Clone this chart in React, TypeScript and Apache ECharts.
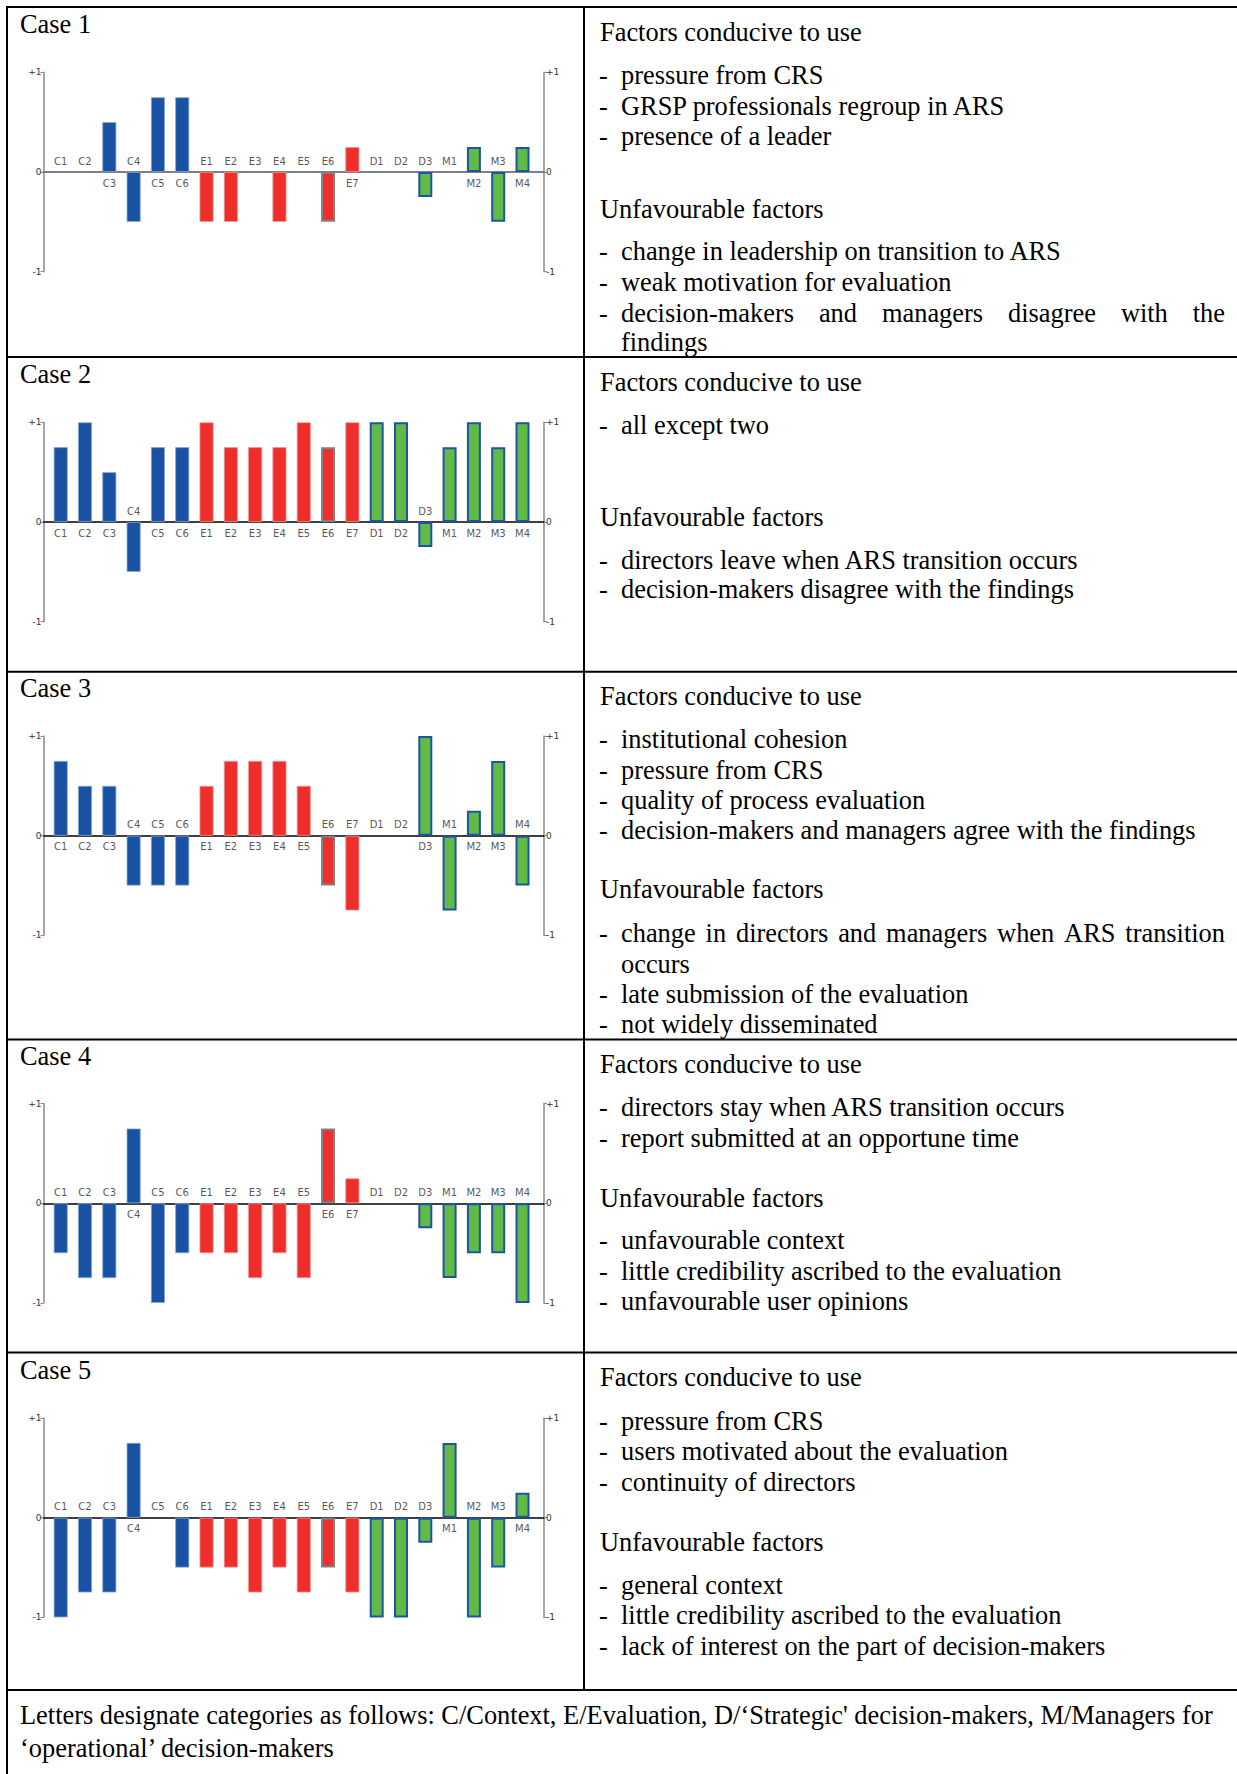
import React, { useEffect, useRef } from 'react';
import * as echarts from 'echarts';

// ---------- DATA ----------
const categories = ['C1', 'C2', 'C3', 'C4', 'C5', 'C6', 'E1', 'E2', 'E3', 'E4', 'E5', 'E6', 'E7', 'D1', 'D2', 'D3', 'M1', 'M2', 'M3', 'M4'];
const case1Values = [0, 0, 0.5, -0.5, 0.75, 0.75, -0.5, -0.5, 0, -0.5, 0, -0.5, 0.25, 0, 0, -0.25, 0, 0.25, -0.5, 0.25];
const case2Values = [0.75, 1, 0.5, -0.5, 0.75, 0.75, 1, 0.75, 0.75, 0.75, 1, 0.75, 1, 1, 1, -0.25, 0.75, 1, 0.75, 1];
const case3Values = [0.75, 0.5, 0.5, -0.5, -0.5, -0.5, 0.5, 0.75, 0.75, 0.75, 0.5, -0.5, -0.75, 0, 0, 1, -0.75, 0.25, 0.75, -0.5];
const case4Values = [-0.5, -0.75, -0.75, 0.75, -1, -0.5, -0.5, -0.5, -0.75, -0.5, -0.75, 0.75, 0.25, 0, 0, -0.25, -0.75, -0.5, -0.5, -1];
const case5Values = [-1, -0.75, -0.75, 0.75, 0, -0.5, -0.5, -0.5, -0.75, -0.5, -0.75, -0.5, -0.75, -1, -1, -0.25, 0.75, -1, -0.5, 0.25];
const allCases = [case1Values, case2Values, case3Values, case4Values, case5Values];
const yTickLabels = ['-1', '0', '+1'];
const caseTitles = ['Case 1', 'Case 2', 'Case 3', 'Case 4', 'Case 5'];

// text lines: h = heading, b = bullet, j = justified bullet, c = continuation
const row1Lines = [
  { k: 'h', s: 'Factors conducive to use' },
  { k: 'b', s: 'pressure from CRS' },
  { k: 'b', s: 'GRSP professionals regroup in ARS' },
  { k: 'b', s: 'presence of a leader' },
  { k: 'h', s: 'Unfavourable factors' },
  { k: 'b', s: 'change in leadership on transition to ARS' },
  { k: 'b', s: 'weak motivation for evaluation' },
  { k: 'j', s: 'decision-makers and managers disagree with the' },
  { k: 'c', s: 'findings' },
];
const row2Lines = [
  { k: 'h', s: 'Factors conducive to use' },
  { k: 'b', s: 'all except two' },
  { k: 'h', s: 'Unfavourable factors' },
  { k: 'b', s: 'directors leave when ARS transition occurs' },
  { k: 'b', s: 'decision-makers disagree with the findings' },
];
const row3Lines = [
  { k: 'h', s: 'Factors conducive to use' },
  { k: 'b', s: 'institutional cohesion' },
  { k: 'b', s: 'pressure from CRS' },
  { k: 'b', s: 'quality of process evaluation' },
  { k: 'b', s: 'decision-makers and managers agree with the findings' },
  { k: 'h', s: 'Unfavourable factors' },
  { k: 'j', s: 'change in directors and managers when ARS transition' },
  { k: 'c', s: 'occurs' },
  { k: 'b', s: 'late submission of the evaluation' },
  { k: 'b', s: 'not widely disseminated' },
];
const row4Lines = [
  { k: 'h', s: 'Factors conducive to use' },
  { k: 'b', s: 'directors stay when ARS transition occurs' },
  { k: 'b', s: 'report submitted at an opportune time' },
  { k: 'h', s: 'Unfavourable factors' },
  { k: 'b', s: 'unfavourable context' },
  { k: 'b', s: 'little credibility ascribed to the evaluation' },
  { k: 'b', s: 'unfavourable user opinions' },
];
const row5Lines = [
  { k: 'h', s: 'Factors conducive to use' },
  { k: 'b', s: 'pressure from CRS' },
  { k: 'b', s: 'users motivated about the evaluation' },
  { k: 'b', s: 'continuity of directors' },
  { k: 'h', s: 'Unfavourable factors' },
  { k: 'b', s: 'general context' },
  { k: 'b', s: 'little credibility ascribed to the evaluation' },
  { k: 'b', s: 'lack of interest on the part of decision-makers' },
];
const allRowLines = [row1Lines, row2Lines, row3Lines, row4Lines, row5Lines];
const footerLines = [
  'Letters designate categories as follows: C/Context, E/Evaluation, D/\u2018Strategic\' decision-makers, M/Managers for',
  '\u2018operational\u2019 decision-makers',
];

// ---------- LAYOUT ----------
const ZERO_Y = [172, 522, 835.7, 1203.3, 1517.7];
const UNIT = 99.7;
const GRID_LEFT = 43.5;
const GRID_WIDTH = 500.5;
const X_MIN = -0.708;
const X_MAX = 19.884;
const TITLE_Y = [23.5, 373.5, 688, 1056, 1370];
const ROW_LINE_Y = [
  [31.7, 75, 106, 136, 209, 251, 281.5, 312.5, 342],
  [382, 425, 516.5, 559.5, 589],
  [696, 738.5, 769.5, 799.5, 829.5, 889, 933, 963.5, 994, 1024],
  [1064, 1107, 1137.5, 1198, 1240, 1271, 1301],
  [1377, 1421, 1451, 1481.5, 1541.5, 1585, 1615, 1646],
];
const FOOTER_Y = [1715, 1748];
const ROW_BORDERS = [357, 671.7, 1039.5, 1352.5, 1690];
const TEXT_FS = 26.4;
const SERIF = 'Liberation Serif';
const HEAD_X = 600;
const DASH_X = 599;
const BULLET_X = 621;
const JUSTIFY_RIGHT = 1225;

function barStyle(cat: string, v: number) {
  const g = cat[0];
  if (v === 0) return { borderWidth: 0, color: 'transparent' };
  if (cat === 'E6') return { color: '#EE2E2B', borderColor: '#808080', borderWidth: 2 };
  if (g === 'C') return { color: '#1A52A3', borderColor: '#86A6D6', borderWidth: 0.8 };
  if (g === 'E') return { color: '#EE2E2B', borderColor: '#F59391', borderWidth: 0.8 };
  return { color: '#62BA46', borderColor: '#1D55A6', borderWidth: 2 };
}

export default function App() {
  const ref = useRef<HTMLDivElement>(null);
  useEffect(() => {
    const chart = echarts.init(ref.current!, null, { renderer: 'svg' });
    const canvas = document.createElement('canvas');
    const ctx = canvas.getContext('2d')!;
    ctx.font = `${TEXT_FS}px "${SERIF}"`;

    const grids: any[] = [];
    const xAxes: any[] = [];
    const yAxes: any[] = [];
    const series: any[] = [];
    allCases.forEach((vals, i) => {
      grids.push({ left: GRID_LEFT, top: ZERO_Y[i] - UNIT, width: GRID_WIDTH, height: 2 * UNIT });
      xAxes.push({
        type: 'value', gridIndex: i, min: X_MIN, max: X_MAX,
        axisLine: { show: true, onZero: true, lineStyle: { color: i === 0 ? '#808080' : '#000', width: i === 0 ? 2 : 1.5 } },
        axisTick: { show: false }, axisLabel: { show: false }, splitLine: { show: false },
      });
      ['left', 'right'].forEach((pos) => {
        yAxes.push({
          type: 'value', gridIndex: i, min: -1, max: 1, interval: 1, position: pos,
          axisLine: { show: true, onZero: false, lineStyle: { color: '#8a8a8a', width: 1.5 } },
          axisTick: { show: true, length: 3, lineStyle: { color: '#8a8a8a', width: 1 } },
          axisLabel: { formatter: (v: number) => yTickLabels[Math.round(v) + 1], fontSize: 9, fontFamily: 'DejaVu Sans', color: '#333', margin: 2 },
          splitLine: { show: false },
        });
      });
      series.push({
        type: 'bar', xAxisIndex: i, yAxisIndex: 2 * i, barWidth: 14, z: 3,
        data: vals.map((v, j) => ({ value: [j, v], itemStyle: barStyle(categories[j], v) })),
      });
      series.push({
        type: 'scatter', xAxisIndex: i, yAxisIndex: 2 * i, symbol: 'circle', symbolSize: 1, z: 5,
        itemStyle: { color: 'transparent' },
        label: { show: true, position: 'inside', formatter: '{b}', fontSize: 10, fontFamily: 'DejaVu Sans', color: '#2a2a2a' },
        data: vals.map((v, j) => ({ name: categories[j], value: [j, 0], label: { offset: [0, v > 0 ? 11 : -11] } })),
      });
    });

    const g: any[] = [];
    const textEl = (s: string, x: number, y: number) => ({
      type: 'text', x, y, silent: true,
      style: { text: s, fontSize: TEXT_FS, fontFamily: SERIF, fill: '#000', textVerticalAlign: 'middle', verticalAlign: 'middle' },
    });
    const lineEl = (x1: number, y1: number, x2: number, y2: number) => ({
      type: 'line', silent: true, shape: { x1, y1, x2, y2 }, style: { stroke: '#000', lineWidth: 2 },
    });
    // borders
    g.push(lineEl(6, 7, 1237, 7));
    g.push(lineEl(7, 6, 7, 1774));
    g.push(lineEl(584, 7, 584, ROW_BORDERS[4]));
    ROW_BORDERS.forEach((y) => g.push(lineEl(6, y, 1237, y)));
    // titles
    caseTitles.forEach((t, i) => g.push(textEl(t, 20, TITLE_Y[i])));
    // right column
    allRowLines.forEach((lines, r) => {
      lines.forEach((ln, li) => {
        const y = ROW_LINE_Y[r][li];
        if (ln.k === 'h') g.push(textEl(ln.s, HEAD_X, y));
        else if (ln.k === 'c') g.push(textEl(ln.s, BULLET_X, y));
        else {
          g.push(textEl('-', DASH_X, y));
          if (ln.k === 'b') g.push(textEl(ln.s, BULLET_X, y));
          else {
            const words = ln.s.split(' ');
            const widths = words.map((w) => ctx.measureText(w).width);
            const total = widths.reduce((a, b) => a + b, 0);
            const gap = (JUSTIFY_RIGHT - BULLET_X - total) / (words.length - 1);
            let x = BULLET_X;
            words.forEach((w, wi) => { g.push(textEl(w, x, y)); x += widths[wi] + gap; });
          }
        }
      });
    });
    footerLines.forEach((s, i) => g.push(textEl(s, 20, FOOTER_Y[i])));

    chart.setOption({
      animation: false,
      backgroundColor: '#fff',
      grid: grids, xAxis: xAxes, yAxis: yAxes, series,
      graphic: { elements: g },
    });
    return () => chart.dispose();
  }, []);
  return <div ref={ref} style={{ position: 'absolute', left: 0, top: 0, width: 1237, height: 1774, background: '#fff' }} />;
}
